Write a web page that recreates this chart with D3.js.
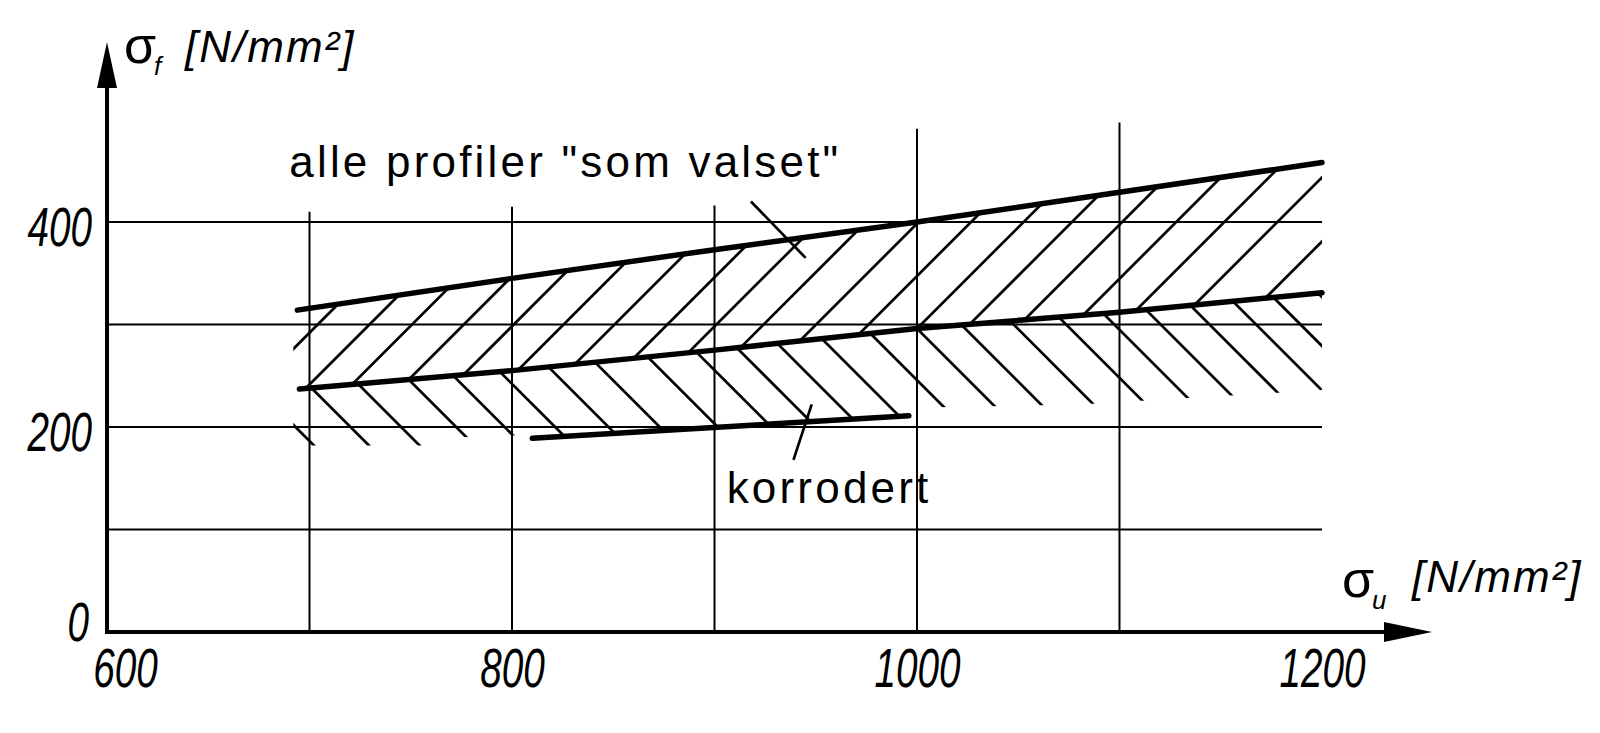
<!DOCTYPE html>
<html>
<head>
<meta charset="utf-8">
<script src="https://d3js.org/d3.v7.min.js"></script>
<style>
  html, body { margin: 0; padding: 0; background: #fff; }
  svg { display: block; }
  .tick-label { font-family: "Liberation Sans Narrow", "Liberation Sans", Arial, sans-serif; font-style: italic; font-size: 56px; fill: #000; }
  .txt { font-family: "Liberation Sans", Arial, sans-serif; fill: #000; }
</style>
</head>
<body>
<svg id="chart" width="1600" height="733"></svg>
<script>
// values: sigma_u on x, sigma_f on y, both N/mm2
var xTickValues = [600, 800, 1000, 1200];
var yTickValues = [0, 200, 400];
var gridRows = [100, 200, 300, 400];
var gridCols = [700, 800, 900, 1000, 1100];
var gridColTops = [410, 415, 416, 491, 497];

// "som valset" band: upper and lower boundary
var valsetTop = [[694, 314], [800, 345], [900, 373], [1000, 400], [1100, 429], [1200, 458]];
var valsetBottom = [[695, 237], [800, 255], [900, 275], [1000, 296], [1100, 312], [1200, 331]];
// "korrodert" band lower boundary (only drawn part)
var korrodertBottom = [[810, 189], [996, 211]];
// where the korrodert hatch strokes stop
var hatchFloor = [[692, 182], [757, 182], [776, 190], [800, 192], [810, 190], [996, 211], [1004, 219], [1080, 222], [1200, 236]];

// sigma_u where each hatch stroke leaves the middle line
var valsetHatch = [670, 698, 721, 749, 776, 803, 831, 860, 887, 913, 942, 971, 1000, 1026, 1053, 1082, 1108, 1137, 1172];
var korrodertHatch = [676, 701, 724, 749, 771, 794, 818, 841, 867, 891, 911, 931, 953, 977, 1000, 1022, 1046, 1070, 1092, 1113, 1135, 1156, 1176, 1198];

// label leaders and label anchors
var leaderValset = [[918, 420], [945, 365]];
var leaderKorrodert = [[948, 222], [939, 168]];
var bandLabels = [
  {text: 'alle profiler "som valset"', x: 690, y: 444},
  {text: "korrodert", x: 906, y: 126}
];

var svg = d3.select("#chart");

var x = d3.scaleLinear().domain([600, 1200]).range([107, 1322]);
var y = d3.scaleLinear().domain([0, 400]).range([632, 222]);

// piecewise linear lookup along a boundary
function along(pts) {
  return d3.scaleLinear().domain(pts.map(d => d[0])).range(pts.map(d => d[1]));
}
var topAt = along(valsetTop);
var midAt = along(valsetBottom);
var floorAt = along(hatchFloor);

var line = d3.line().x(d => x(d[0])).y(d => y(d[1]));

// clip regions for the two hatched bands
var xLeft = 692;
var upperXs = [xLeft].concat(valsetTop.map(d => d[0]));
var midXs = [xLeft].concat(valsetBottom.map(d => d[0]));
var floorXs = hatchFloor.map(d => d[0]);

var upperPoly = upperXs.map(v => [x(v), y(topAt(v))])
  .concat(midXs.slice().reverse().map(v => [x(v), y(midAt(v))]));
var lowerPoly = midXs.map(v => [x(v), y(midAt(v))])
  .concat(floorXs.slice().reverse().map(v => [x(v), y(floorAt(v))]));

var defs = svg.append("defs");
defs.append("clipPath").attr("id", "clip-upper")
  .append("path").attr("d", "M" + upperPoly.join("L") + "Z");
defs.append("clipPath").attr("id", "clip-lower")
  .append("path").attr("d", "M" + lowerPoly.join("L") + "Z");

// grid
svg.append("g").selectAll("line").data(gridRows).join("line")
  .attr("x1", x(600)).attr("x2", x(1200))
  .attr("y1", d => y(d)).attr("y2", d => y(d))
  .attr("stroke", "#000").attr("stroke-width", 2);

svg.append("g").selectAll("line").data(gridCols).join("line")
  .attr("x1", d => x(d)).attr("x2", d => x(d))
  .attr("y1", y(0)).attr("y2", (d, i) => y(gridColTops[i]))
  .attr("stroke", "#000").attr("stroke-width", 2);

// hatching, 45 degree strokes from the middle line
svg.append("g").attr("clip-path", "url(#clip-upper)")
  .selectAll("line").data(valsetHatch).join("line")
  .attr("x1", d => x(d) - 60).attr("y1", d => y(midAt(d)) + 60)
  .attr("x2", d => x(d) + 300).attr("y2", d => y(midAt(d)) - 300)
  .attr("stroke", "#000").attr("stroke-width", 2.7);

svg.append("g").attr("clip-path", "url(#clip-lower)")
  .selectAll("line").data(korrodertHatch).join("line")
  .attr("x1", d => x(d) - 60).attr("y1", d => y(midAt(d)) - 60)
  .attr("x2", d => x(d) + 200).attr("y2", d => y(midAt(d)) + 200)
  .attr("stroke", "#000").attr("stroke-width", 2.7);

// boundary lines
[valsetTop, valsetBottom, korrodertBottom].forEach(function(pts) {
  svg.append("path").datum(pts).attr("d", line)
    .attr("fill", "none").attr("stroke", "#000")
    .attr("stroke-width", 5.5).attr("stroke-linecap", "round");
});

// leaders
[leaderValset, leaderKorrodert].forEach(function(pts) {
  svg.append("path").datum(pts).attr("d", line)
    .attr("fill", "none").attr("stroke", "#000").attr("stroke-width", 2.7);
});

// band labels
svg.append("g").selectAll("text").data(bandLabels).join("text")
  .attr("class", "txt")
  .attr("x", d => x(d.x)).attr("y", d => y(d.y))
  .attr("font-size", 44).attr("letter-spacing", 3.2)
  .text(d => d.text);

// axes: lines with arrow heads
var x0 = x(600), y0 = y(0);
svg.append("line").attr("x1", x0).attr("y1", y0).attr("x2", 1400).attr("y2", y0)
  .attr("stroke", "#000").attr("stroke-width", 4);
svg.append("line").attr("x1", x0).attr("y1", y0 + 2).attr("x2", x0).attr("y2", 70)
  .attr("stroke", "#000").attr("stroke-width", 4);
svg.append("path").attr("d", "M1384," + (y0 - 10) + "L1432," + y0 + "L1384," + (y0 + 10) + "Z");
svg.append("path").attr("d", "M" + (x0 - 10) + ",88L" + x0 + ",42L" + (x0 + 10) + ",88Z");

// tick labels through d3 axes, no tick marks
var xAxis = svg.append("g").attr("transform", "translate(0," + y0 + ")")
  .call(d3.axisBottom(x).tickValues(xTickValues).tickFormat(d3.format("d")).tickSize(0).tickPadding(0));
xAxis.select(".domain").remove();
xAxis.selectAll("text")
  .attr("class", "tick-label").attr("font-size", null).attr("font-family", null)
  .attr("y", 55).attr("dy", null)
  .attr("dx", d => d === 600 ? 18 : 0)
  .attr("textLength", d => String(d).length * 21.5)
  .attr("lengthAdjust", "spacingAndGlyphs");
xAxis.attr("font-size", null).attr("font-family", null);

var yAxis = svg.append("g").attr("transform", "translate(" + x0 + ",0)")
  .call(d3.axisLeft(y).tickValues(yTickValues).tickFormat(d3.format("d")).tickSize(0).tickPadding(0));
yAxis.select(".domain").remove();
yAxis.selectAll("text")
  .attr("class", "tick-label").attr("font-size", null).attr("font-family", null)
  .attr("x", d => d === 0 ? -18 : -15).attr("dy", d => d === 0 ? 8 : 23)
  .attr("textLength", d => String(d).length * 21.5)
  .attr("lengthAdjust", "spacingAndGlyphs");
yAxis.attr("font-size", null).attr("font-family", null);

// axis titles
function axisTitle(sx, sy, sub, bx, by) {
  svg.append("text").attr("class", "txt").attr("x", sx).attr("y", sy)
    .attr("font-size", 52).text("\u03C3");
  svg.append("text").attr("class", "txt").attr("x", sx + 30).attr("y", sy + 12)
    .attr("font-size", 26).attr("font-style", "italic").text(sub);
  svg.append("text").attr("class", "txt").attr("x", bx).attr("y", by)
    .attr("font-size", 44).attr("font-style", "italic").attr("letter-spacing", 2)
    .text("[N/mm\u00B2]");
}
axisTitle(124, 63, "f", 185, 62);
axisTitle(1342, 597, "u", 1412, 592);
</script>
</body>
</html>
